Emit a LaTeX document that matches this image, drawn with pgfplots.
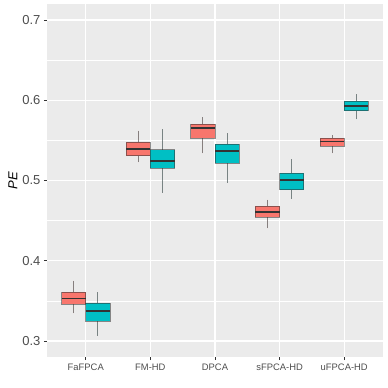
\documentclass[border=0pt]{standalone}
\usepackage{fontspec}
\setmainfont{Liberation Sans}
\usepackage{pgfplots}
\pgfplotsset{compat=1.18}
\usepgfplotslibrary{statistics}
\definecolor{ggred}{HTML}{F8766D}
\definecolor{ggteal}{HTML}{00BFC4}
\definecolor{panelgrey}{HTML}{EBEBEB}
\definecolor{textgrey}{HTML}{4D4D4D}
\definecolor{tickgrey}{HTML}{333333}

% ggplot-like box: vertical, no whisker caps, thick median
\pgfplotsset{
  ggbox/.style={
    draw=tickgrey, draw opacity=0.55, line width=0.8pt, fill=#1,
    boxplot/draw direction=y,
    boxplot/box extend=0.375,
    boxplot/whisker extend=0,
    boxplot/every median/.style={draw=tickgrey, draw opacity=1, line width=1.7pt},
  },
}

\begin{document}
\begin{tikzpicture}
\begin{axis}[
  width=336pt, height=353pt, scale only axis,
  xmin=0.4, xmax=5.6, ymin=0.28, ymax=0.72,
  axis background/.style={fill=panelgrey},
  axis line style={draw=none},
  xtick pos=bottom, ytick pos=left,
  xtick={1,2,3,4,5},
  xticklabels={FaFPCA,FM-HD,DPCA,sFPCA-HD,uFPCA-HD},
  ytick={0.3,0.4,0.5,0.6,0.7},
  minor ytick={0.35,0.45,0.55,0.65},
  yticklabel style={/pgf/number format/fixed, /pgf/number format/fixed zerofill,
    /pgf/number format/precision=1, /pgf/number format/assume math mode=true,
    font=\fontsize{13}{15}\selectfont, text=textgrey},
  xticklabel style={font=\fontsize{9.4}{11}\selectfont, text=textgrey},
  grid=both,
  major grid style={white, line width=1.1pt},
  minor grid style={white, line width=0.55pt},
  tick align=outside,
  major tick length=3pt, minor tick length=0pt,
  tick style={tickgrey, line width=0.8pt},
  ylabel={\textit{PE}},
  every axis y label/.style={at={(rel axis cs:0,0.5)}, xshift=-34pt, rotate=90,
    anchor=center, font=\fontsize{13}{15}\selectfont},
]
% FaFPCA
\addplot[ggbox=ggred, boxplot prepared={draw position=0.8125,
  lower whisker=0.3345, lower quartile=0.3461, median=0.3531,
  upper quartile=0.3607, upper whisker=0.3751}] coordinates {};
\addplot[ggbox=ggteal, boxplot prepared={draw position=1.1875,
  lower whisker=0.3066, lower quartile=0.3249, median=0.3370,
  upper quartile=0.3474, upper whisker=0.3607}] coordinates {};
% FM-HD
\addplot[ggbox=ggred, boxplot prepared={draw position=1.8125,
  lower whisker=0.5227, lower quartile=0.5310, median=0.5397,
  upper quartile=0.5476, upper whisker=0.5621}] coordinates {};
\addplot[ggbox=ggteal, boxplot prepared={draw position=2.1875,
  lower whisker=0.4848, lower quartile=0.5156, median=0.5243,
  upper quartile=0.5384, upper whisker=0.5638}] coordinates {};
% DPCA
\addplot[ggbox=ggred, boxplot prepared={draw position=2.8125,
  lower whisker=0.5339, lower quartile=0.5526, median=0.5654,
  upper quartile=0.5700, upper whisker=0.5787}] coordinates {};
\addplot[ggbox=ggteal, boxplot prepared={draw position=3.1875,
  lower whisker=0.4973, lower quartile=0.5214, median=0.5372,
  upper quartile=0.5455, upper whisker=0.5588}] coordinates {};
% sFPCA-HD
\addplot[ggbox=ggred, boxplot prepared={draw position=3.8125,
  lower whisker=0.4404, lower quartile=0.4541, median=0.4607,
  upper quartile=0.4678, upper whisker=0.4761}] coordinates {};
\addplot[ggbox=ggteal, boxplot prepared={draw position=4.1875,
  lower whisker=0.4774, lower quartile=0.4886, median=0.5002,
  upper quartile=0.5090, upper whisker=0.5264}] coordinates {};
% uFPCA-HD
\addplot[ggbox=ggred, boxplot prepared={draw position=4.8125,
  lower whisker=0.5339, lower quartile=0.5430, median=0.5488,
  upper quartile=0.5526, upper whisker=0.5567}] coordinates {};
\addplot[ggbox=ggteal, boxplot prepared={draw position=5.1875,
  lower whisker=0.5763, lower quartile=0.5870, median=0.5928,
  upper quartile=0.5991, upper whisker=0.6074}] coordinates {};
\end{axis}
\path ([xshift=-47pt,yshift=-31pt]current axis.south west)
  rectangle ([xshift=5pt,yshift=4pt]current axis.north east);
\end{tikzpicture}
\end{document}
